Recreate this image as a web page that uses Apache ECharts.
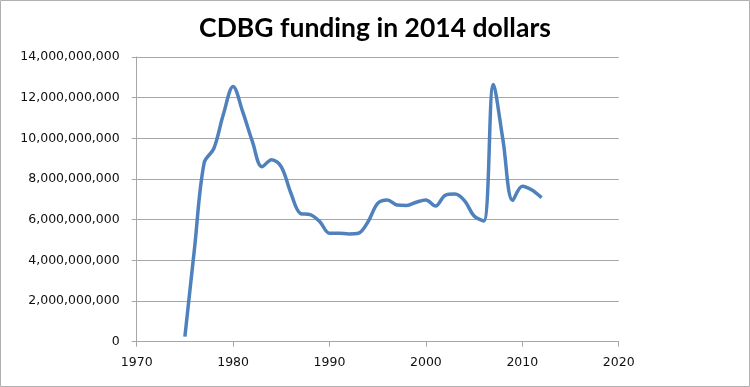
<!DOCTYPE html>
<html>
<head>
<meta charset="utf-8">
<script src="https://cdn.jsdelivr.net/npm/echarts@6/dist/echarts.min.js"></script>
<style>
html,body{margin:0;padding:0;background:#fff;}
#chart{width:750px;height:387px;}
</style>
</head>
<body>
<div id="chart"></div>
<script>
var titleText = "CDBG funding in 2014 dollars";
var years = [1975,1976,1977,1978,1979,1980,1981,1982,1983,1984,1985,1986,1987,1988,1989,1990,1991,1992,1993,1994,1995,1996,1997,1998,1999,2000,2001,2002,2003,2004,2005,2006,2007,2008,2009,2010,2011,2012];
var funding = [0.25e9,4.6e9,8.8e9,9.5e9,11.2e9,12.55e9,11.3e9,9.85e9,8.6e9,8.95e9,8.6e9,7.3e9,6.3e9,6.25e9,5.9e9,5.33e9,5.33e9,5.3e9,5.33e9,5.9e9,6.8e9,6.97e9,6.72e9,6.7e9,6.86e9,6.97e9,6.67e9,7.2e9,7.26e9,6.94e9,6.18e9,5.94e9,12.65e9,9.9e9,6.95e9,7.65e9,7.46e9,7.08e9];
var xTicks = [1970,1980,1990,2000,2010,2020];
var yTicks = [0,2e9,4e9,6e9,8e9,10e9,12e9,14e9];

var chart = echarts.init(document.getElementById('chart'), null, {renderer:'canvas'});
function fmt(v){ return String(Math.round(v)).replace(/\B(?=(\d{3})+(?!\d))/g, ','); }
chart.setOption({
  backgroundColor:'#ffffff',
  animation:false,
  title:{
    text:titleText, left:'center', top:10,
    textStyle:{fontFamily:'Lato', fontWeight:'bold', fontSize:26.5, color:'#000'}
  },
  graphic:[{type:'rect', shape:{x:0.5,y:0.5,width:749,height:386}, style:{fill:'none', stroke:'#b0b0b0', lineWidth:1}, silent:true}],
  grid:{left:136.7, right:131.3, top:57, bottom:45.3, containLabel:false},
  xAxis:{
    type:'value', min:xTicks[0], max:xTicks[xTicks.length-1], interval:10,
    axisLine:{show:true, lineStyle:{color:'#a6a6a6', width:1}},
    axisTick:{show:true, length:5, inside:false, lineStyle:{color:'#a6a6a6'}},
    splitLine:{show:false},
    axisLabel:{fontFamily:'DejaVu Sans', fontSize:12.5, color:'#111', margin:15, formatter:function(v){return String(v);}}
  },
  yAxis:{
    type:'value', min:yTicks[0], max:yTicks[yTicks.length-1], interval:2e9,
    axisLine:{show:true, lineStyle:{color:'#a6a6a6', width:1}},
    axisTick:{show:true, length:5, lineStyle:{color:'#a6a6a6'}},
    splitLine:{show:true, lineStyle:{color:'#a6a6a6', width:1}},
    axisLabel:{fontFamily:'DejaVu Sans', fontSize:12.5, color:'#111', margin:17, padding:[3,0,0,0], formatter:fmt}
  },
  series:[{
    type:'line',
    data:years.map(function(y,i){return [y, funding[i]];}),
    smooth:0.35,
    showSymbol:false,
    lineStyle:{color:'#4f81bd', width:3.5},
    itemStyle:{color:'#4f81bd'}
  }]
});
</script>
</body>
</html>
